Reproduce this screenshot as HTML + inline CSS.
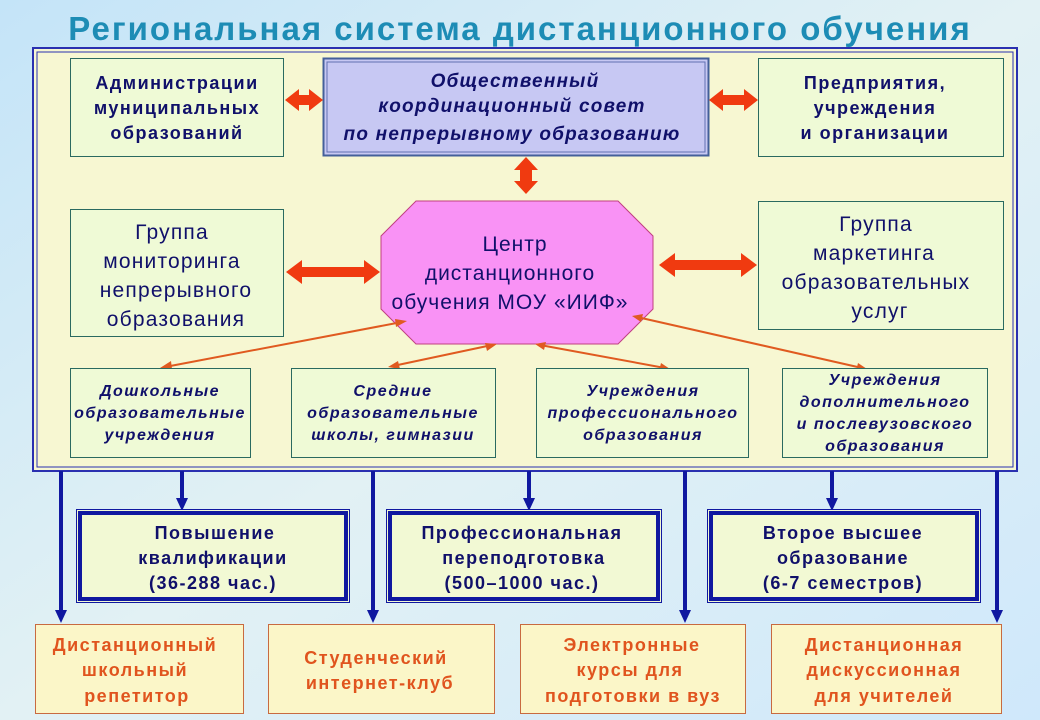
<!DOCTYPE html>
<html><head><meta charset="utf-8"><style>
html,body{margin:0;padding:0;width:1040px;height:720px;overflow:hidden}
body{background:linear-gradient(90deg,#bfe2f6 0%,#d8eef8 30%,#e6f4f6 60%,#dcefff 100%)}
svg{display:block}
text{font-family:"Liberation Sans",sans-serif;text-anchor:middle}
</style></head><body>
<svg width="1040" height="720" viewBox="0 0 1040 720" xmlns="http://www.w3.org/2000/svg">
<defs>
<linearGradient id="bg" x1="0" y1="0" x2="1" y2="1">
<stop offset="0" stop-color="#c4e4f8"/><stop offset="0.5" stop-color="#e2f1f4"/><stop offset="1" stop-color="#cfe8fb"/>
</linearGradient>
</defs>
<rect width="1040" height="720" fill="url(#bg)"/>
<text x="520" y="40" font-size="33" font-weight="bold" fill="#1d8cb5" letter-spacing="2">Региональная система дистанционного обучения</text>

<rect x="33" y="48" width="984" height="423" fill="#f7f7d2" stroke="#2a30b0" stroke-width="2"/>
<rect x="37" y="52" width="976" height="415" fill="none" stroke="#2a30b0" stroke-width="1"/>

<rect x="70.5" y="58.5" width="213" height="98" fill="#effad6" stroke="#2a6a60"/>
<g font-size="18" font-weight="bold" fill="#10106a" letter-spacing="1.5">
<text x="177" y="89">Администрации</text><text x="177" y="114">муниципальных</text><text x="177" y="139">образований</text>
</g>
<rect x="323.5" y="58.5" width="385" height="97" fill="#c7c8f3" stroke="#44609a" stroke-width="2"/>
<rect x="327" y="62" width="378" height="90" fill="none" stroke="#6070b0" stroke-width="1"/>
<g font-size="19" font-weight="bold" font-style="italic" fill="#10106a" letter-spacing="1.2">
<text x="515" y="87">Общественный</text><text x="512" y="112">координационный совет</text><text x="512" y="140">по непрерывному образованию</text>
</g>
<rect x="758.5" y="58.5" width="245" height="98" fill="#effad6" stroke="#2a6a60"/>
<g font-size="18" font-weight="bold" fill="#10106a" letter-spacing="1.5">
<text x="875" y="89">Предприятия,</text><text x="875" y="114">учреждения</text><text x="875" y="139">и организации</text>
</g>

<rect x="70.5" y="209.5" width="213" height="127" fill="#effad6" stroke="#2a6a60"/>
<g font-size="21" fill="#10106a" letter-spacing="1.2">
<text x="172" y="239">Группа</text><text x="172" y="268">мониторинга</text><text x="176" y="297">непрерывного</text><text x="176" y="326">образования</text>
</g>
<rect x="758.5" y="201.5" width="245" height="128" fill="#effad6" stroke="#2a6a60"/>
<g font-size="21" fill="#10106a" letter-spacing="1.2">
<text x="876" y="231">Группа</text><text x="874" y="260">маркетинга</text><text x="876" y="289">образовательных</text><text x="880" y="318">услуг</text>
</g>

<polygon points="416,201 618,201 653,236 653,309 618,344 416,344 381,309 381,236" fill="#f992f5" stroke="#c04080"/>
<g font-size="21" fill="#10106a" letter-spacing="1">
<text x="515" y="251">Центр</text><text x="510" y="280">дистанционного</text><text x="510" y="309">обучения МОУ «ИИФ»</text>
</g>

<g fill="#f03a10">
<polygon points="285,100 299,89 299,95 309,95 309,89 323,100 309,111 309,105 299,105 299,111"/>
<polygon points="709,100 723,89 723,95 744,95 744,89 758,100 744,111 744,105 723,105 723,111"/>
<polygon points="526,157 538,170 532,170 532,181 538,181 526,194 514,181 520,181 520,170 514,170"/>
<polygon points="286,272 302,260 302,267 364,267 364,260 380,272 364,284 364,277 302,277 302,284"/>
<polygon points="659,265 675,253 675,260 741,260 741,253 757,265 741,277 741,270 675,270 675,277"/>
</g>

<g stroke="#e05a20" stroke-width="2" fill="none">
<line x1="165" y1="367" x2="402" y2="322"/>
<line x1="393" y1="366" x2="492" y2="345"/>
<line x1="540" y1="345" x2="665" y2="368"/>
<line x1="637" y1="317" x2="862" y2="368"/>
</g>
<g fill="#e05a20">
<polygon points="160,368 171,361 172,369"/>
<polygon points="407,321 396,327 395,319"/>
<polygon points="388,367 398,361 400,369"/>
<polygon points="497,344 487,351 485,343"/>
<polygon points="535,344 546,342 544,350"/>
<polygon points="670,369 659,371 661,363"/>
<polygon points="632,316 643,314 641,322"/>
<polygon points="867,369 856,371 858,363"/>
</g>

<g fill="#effad6" stroke="#2a6a60">
<rect x="70.5" y="368.5" width="180" height="89"/>
<rect x="291.5" y="368.5" width="204" height="89"/>
<rect x="536.5" y="368.5" width="212" height="89"/>
<rect x="782.5" y="368.5" width="205" height="89"/>
</g>
<g font-size="16" font-weight="bold" font-style="italic" fill="#10106a" letter-spacing="1.5">
<text x="160" y="396">Дошкольные</text><text x="160" y="418">образовательные</text><text x="160" y="440">учреждения</text>
<text x="393" y="396">Средние</text><text x="393" y="418">образовательные</text><text x="393" y="440">школы, гимназии</text>
<text x="643" y="396">Учреждения</text><text x="643" y="418">профессионального</text><text x="643" y="440">образования</text>
<text x="885" y="385">Учреждения</text><text x="885" y="407">дополнительного</text><text x="885" y="429">и послевузовского</text><text x="885" y="451">образования</text>
</g>

<g stroke="#1018a0" stroke-width="4">
<line x1="61" y1="471" x2="61" y2="612"/>
<line x1="182" y1="471" x2="182" y2="500"/>
<line x1="373" y1="471" x2="373" y2="612"/>
<line x1="529" y1="471" x2="529" y2="500"/>
<line x1="685" y1="471" x2="685" y2="612"/>
<line x1="832" y1="471" x2="832" y2="500"/>
<line x1="997" y1="471" x2="997" y2="612"/>
</g>
<g fill="#1018a0">
<polygon points="55,610 67,610 61,623"/>
<polygon points="176,498 188,498 182,511"/>
<polygon points="367,610 379,610 373,623"/>
<polygon points="523,498 535,498 529,511"/>
<polygon points="679,610 691,610 685,623"/>
<polygon points="826,498 838,498 832,511"/>
<polygon points="991,610 1003,610 997,623"/>
</g>

<g fill="#f2f9d4" stroke="#1018a0">
<rect x="76.5" y="509.5" width="273" height="93" stroke-width="1"/>
<rect x="80" y="513" width="266" height="86" stroke-width="4"/>
<rect x="386.5" y="509.5" width="275" height="93" stroke-width="1"/>
<rect x="390" y="513" width="268" height="86" stroke-width="4"/>
<rect x="707.5" y="509.5" width="273" height="93" stroke-width="1"/>
<rect x="711" y="513" width="266" height="86" stroke-width="4"/>
</g>
<g font-size="18" font-weight="bold" fill="#10106a" letter-spacing="1.5">
<text x="215" y="539">Повышение</text><text x="213" y="564">квалификации</text><text x="213" y="589">(36-288 час.)</text>
<text x="522" y="539">Профессиональная</text><text x="524" y="564">переподготовка</text><text x="522" y="589">(500–1000 час.)</text>
<text x="843" y="539">Второе высшее</text><text x="843" y="564">образование</text><text x="843" y="589">(6-7 семестров)</text>
</g>

<g fill="#fbf6c8" stroke="#c86a40">
<rect x="35.5" y="624.5" width="208" height="89"/>
<rect x="268.5" y="624.5" width="226" height="89"/>
<rect x="520.5" y="624.5" width="225" height="89"/>
<rect x="771.5" y="624.5" width="230" height="89"/>
</g>
<g font-size="18" font-weight="bold" fill="#e0541e" letter-spacing="1.5">
<text x="135" y="651">Дистанционный</text><text x="135" y="676">школьный</text><text x="137" y="702">репетитор</text>
<text x="376" y="664">Студенческий</text><text x="380" y="689">интернет-клуб</text>
<text x="632" y="651">Электронные</text><text x="630" y="676">курсы для</text><text x="633" y="702">подготовки в вуз</text>
<text x="884" y="651">Дистанционная</text><text x="884" y="676">дискуссионная</text><text x="884" y="702">для учителей</text>
</g>
</svg>
</body></html>
